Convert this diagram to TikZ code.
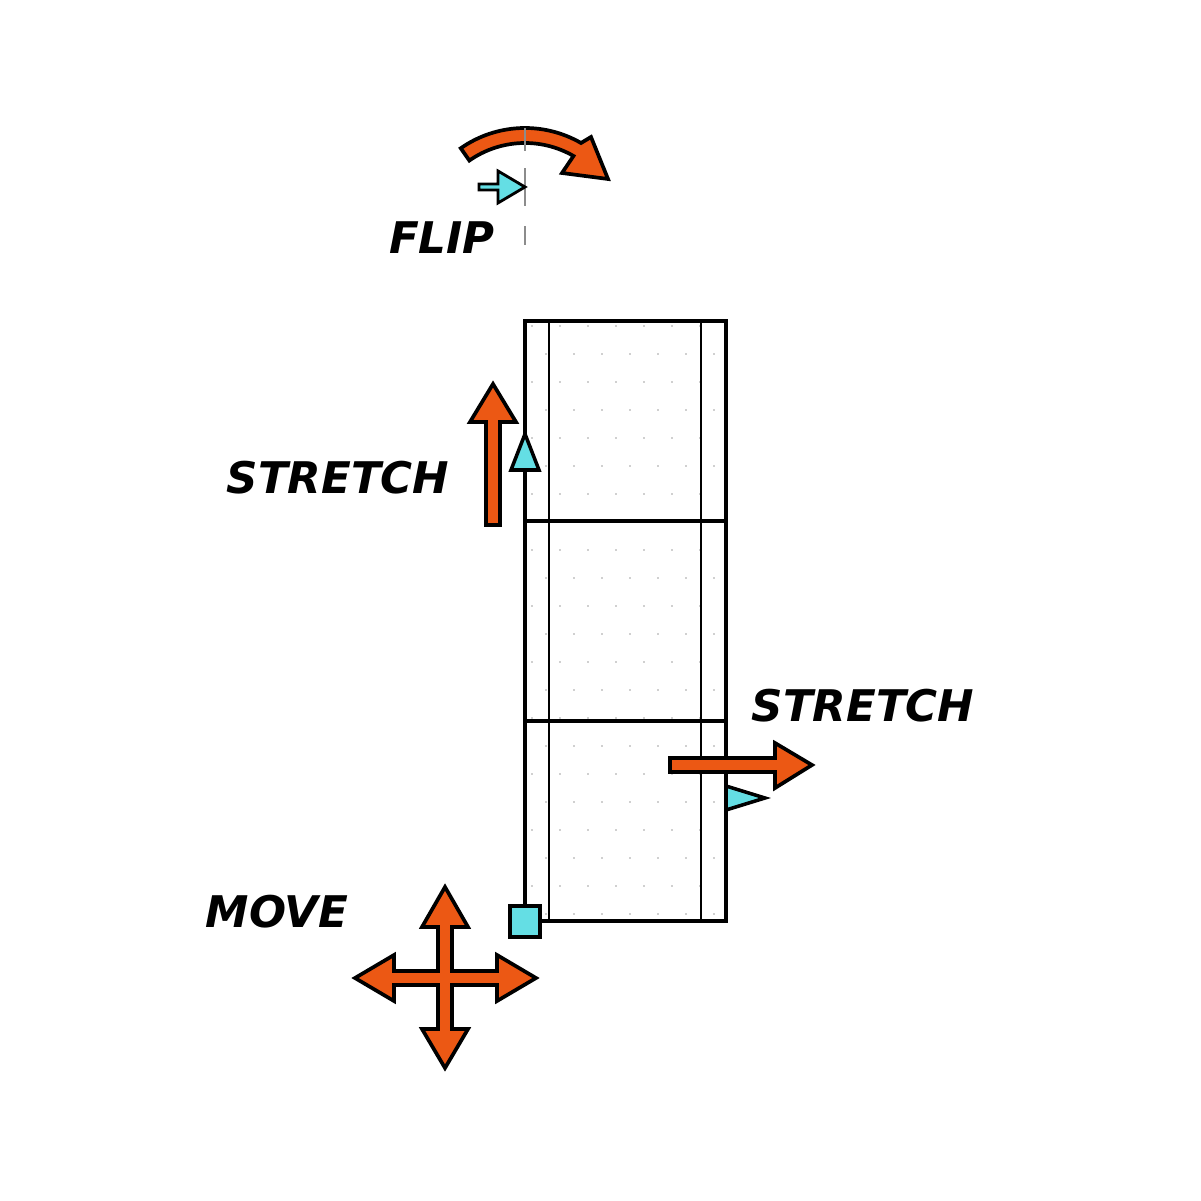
\documentclass[tikz,border=0pt]{standalone}
\usepackage{fontspec}
\setmainfont{DejaVu Sans}

\definecolor{handleorange}{RGB}{236,88,20}
\definecolor{gripcyan}{RGB}{100,222,228}

\begin{document}
\begin{tikzpicture}[x=0.01cm, y=-0.01cm,
    bigarrow/.style={draw=black, line width=1.05pt, fill=handleorange},
    grip/.style={draw=black, line width=1pt, fill=gripcyan},
    label/.style={font=\fontsize{12.4}{15}\selectfont\bfseries\itshape, inner sep=0pt}]
        \useasboundingbox (0,0) rectangle (1201,1201);
        % ==== DOT GRID ====
        \foreach \r in {0,...,21} {
            \pgfmathsetmacro{\yy}{326+28*\r}
            \pgfmathsetmacro{\xo}{mod(\r,2)==0 ? 532 : 546}
            \foreach \c in {0,...,6}
                \fill[black!80] ({\xo+28*\c},\yy) circle (0.7);
        }
        % ==== PANEL ====
        \draw[line width=0.5pt] (549,321) -- (549,921);
        \draw[line width=0.5pt] (701,321) -- (701,921);
        \draw[line width=1pt] (525,521) -- (726,521);
        \draw[line width=1pt] (525,721) -- (726,721);
        \draw[line width=1.05pt] (525,321) rectangle (726,921);

        % ==== FLIP ====
        \draw[bigarrow] ([shift={(-125:112)}]525,240) arc (-125:-60:112)
            -- (591,137) -- (608,179) -- (562,173)
            -- ([shift={(-60:97)}]525,240) arc (-60:-125:97) -- cycle;
        \draw[black!45, line width=0.4pt, dash pattern=on 0.23cm off 0.17cm on 0.38cm off 0.2cm]
            (525,128) -- (525,245);
        \draw[grip, line width=0.8pt] (479,184) -- (498,184) -- (498,171) -- (525,187)
            -- (498,203) -- (498,190) -- (479,190) -- cycle;
        \node[label] (flip) at (442,238) {FLIP};

        % ==== STRETCH UP ====
        \draw[bigarrow] (486,525) -- (486,422) -- (470,422) -- (493,384) -- (516,422)
            -- (500,422) -- (500,525) -- cycle;
        \draw[grip] (525,434) -- (539,470) -- (511,470) -- cycle;
        \node[label] (stretchup) at (338,478) {STRETCH};

        % ==== STRETCH RIGHT ====
        \draw[bigarrow] (670,758) -- (775,758) -- (775,743) -- (812,765) -- (775,788)
            -- (775,772) -- (670,772) -- cycle;
        \draw[grip] (726,786) -- (765,798) -- (726,810) -- cycle;
        \node[label] (stretchright) at (863,706) {STRETCH};

        % ==== MOVE ====
        \draw[bigarrow] (445,887) -- (468,927) -- (452,927) -- (452,971) -- (497,971)
            -- (497,955) -- (536,978) -- (497,1001) -- (497,985) -- (452,985)
            -- (452,1029) -- (468,1029) -- (445,1068) -- (422,1029) -- (438,1029)
            -- (438,985) -- (394,985) -- (394,1001) -- (355,978) -- (394,955)
            -- (394,971) -- (438,971) -- (438,927) -- (422,927) -- cycle;
        \draw[grip] (510,906) rectangle (540,937);
        \node[label] (move) at (277,912) {MOVE};
     \end{tikzpicture}
\end{document}
